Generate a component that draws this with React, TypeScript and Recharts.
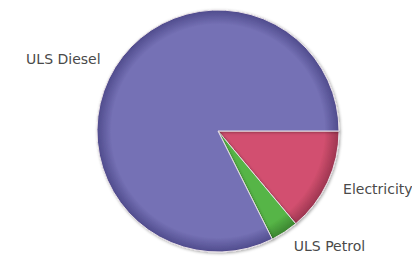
import { PieChart, Pie, Cell } from "recharts";

document.body.style.margin = "0";

const fuels = ["Electricity", "ULS Petrol", "ULS Diesel"];
const shares = [13.9, 3.7, 82.4];
const colors = ["#d2506f", "#56b546", "#7571b5"];
const rims = ["#9c3550", "#3b8430", "#4f4b8c"];

const data = fuels.map((name, i) => ({ name, value: shares[i] }));

const RADIAN = Math.PI / 180;

function renderLabel(props: any) {
  const { cx, cy, midAngle, outerRadius, name } = props;
  const r = outerRadius + 17;
  const cos = Math.cos(-midAngle * RADIAN);
  const sin = Math.sin(-midAngle * RADIAN);
  const x = cx + r * cos;
  const y = cy + r * sin;
  return (
    <text
      x={x}
      y={y}
      textAnchor={cos >= 0 ? "start" : "end"}
      dominantBaseline="central"
      fill="#4a4a4a"
      fontSize={14}
      fontFamily="DejaVu Sans, Verdana, sans-serif"
    >
      {name}
    </text>
  );
}

export default function App() {
  return (
    <div style={{ width: 412, height: 259, background: "#fff" }}>
      <PieChart width={412} height={259} margin={{ top: 0, right: 0, bottom: 0, left: 0 }}>
        <defs>
          {colors.map((c, i) => (
            <radialGradient
              key={c}
              id={`g${i}`}
              gradientUnits="userSpaceOnUse"
              cx={218}
              cy={131}
              r={121}
            >
              <stop offset="0%" stopColor={c} />
              <stop offset="88%" stopColor={c} />
              <stop offset="100%" stopColor={rims[i]} />
            </radialGradient>
          ))}
          <filter id="shadow" x="-10%" y="-10%" width="120%" height="120%">
            <feDropShadow dx="1" dy="1" stdDeviation="1.5" floodColor="#000" floodOpacity="0.35" />
          </filter>
        </defs>
        <Pie
          data={data}
          dataKey="value"
          nameKey="name"
          cx={218}
          cy={131}
          outerRadius={121}
          startAngle={0}
          endAngle={-360}
          stroke="#e8e0e6"
          strokeWidth={1}
          label={renderLabel}
          labelLine={false}
          isAnimationActive={false}
          style={{ filter: "url(#shadow)" }}
        >
          {data.map((d, i) => (
            <Cell key={d.name} fill={`url(#g${i})`} />
          ))}
        </Pie>
      </PieChart>
    </div>
  );
}
